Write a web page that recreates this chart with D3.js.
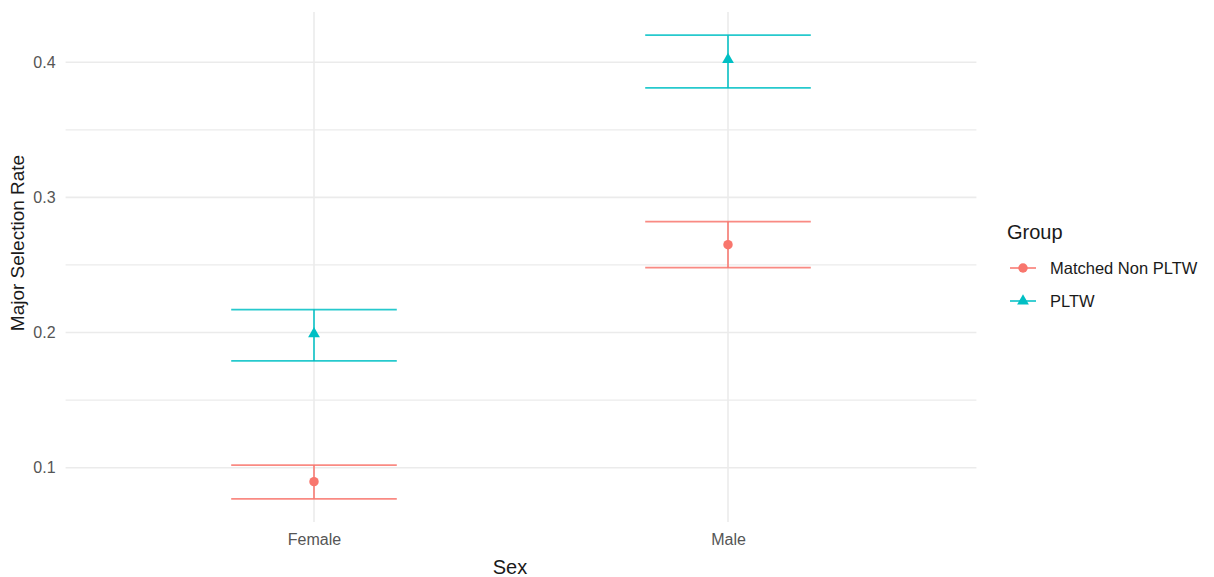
<!DOCTYPE html>
<html><head><meta charset="utf-8">
<script src="https://cdn.jsdelivr.net/npm/d3@7"></script>
<style>body{margin:0;background:#fff;} svg{display:block;font-family:"Liberation Sans",Arial,sans-serif;}</style>
</head><body>
<svg id="chart" width="1214" height="577"></svg>
<script>
const categories = ["Female", "Male"];
const groups = ["Matched Non PLTW", "PLTW"];
const colors = ["#F8766D", "#00BFC4"];
const matchedRate = [0.0897, 0.265];
const matchedLower = [0.077, 0.248];
const matchedUpper = [0.102, 0.282];
const pltwRate = [0.199, 0.402];
const pltwLower = [0.179, 0.381];
const pltwUpper = [0.217, 0.420];
const yTicks = [0.1, 0.2, 0.3, 0.4];
const yMinor = [0.15, 0.25, 0.35];

const rows = [];
categories.forEach((c, i) => {
  rows.push({cat: c, g: 0, rate: matchedRate[i], lo: matchedLower[i], hi: matchedUpper[i]});
  rows.push({cat: c, g: 1, rate: pltwRate[i], lo: pltwLower[i], hi: pltwUpper[i]});
});

const svg = d3.select("#chart");
const panel = {left: 65.6, right: 976.4, top: 12, bottom: 522};

const x = d3.scalePoint().domain(categories).range([panel.left, panel.right]).padding(0.6);
const step = x.step();
const yLo = d3.min(rows, d => d.lo), yHi = d3.max(rows, d => d.hi);
const pad = (yHi - yLo) * 0.05;
const y = d3.scaleLinear().domain([yLo - pad, yHi + pad]).range([panel.bottom, panel.top]);

const grid = svg.append("g");
grid.selectAll("line.minor").data(yMinor).join("line")
  .attr("x1", panel.left).attr("x2", panel.right)
  .attr("y1", d => y(d)).attr("y2", d => y(d))
  .attr("stroke", "#ebebeb").attr("stroke-width", 1.2);
grid.selectAll("line.major").data(yTicks).join("line")
  .attr("x1", panel.left).attr("x2", panel.right)
  .attr("y1", d => y(d)).attr("y2", d => y(d))
  .attr("stroke", "#ebebeb").attr("stroke-width", 1.6);
grid.selectAll("line.vx").data(categories).join("line")
  .attr("x1", d => x(d)).attr("x2", d => x(d))
  .attr("y1", panel.top).attr("y2", panel.bottom)
  .attr("stroke", "#ebebeb").attr("stroke-width", 1.6);

// axes
const yAxis = d3.axisLeft(y).tickValues(yTicks).tickFormat(d3.format(".1f")).tickSize(0).tickPadding(10);
const ya = svg.append("g").attr("transform", `translate(${panel.left},0)`).call(yAxis);
ya.select(".domain").remove();
ya.selectAll("text").attr("font-size", 16).attr("fill", "#555").attr("font-family", "Liberation Sans, Arial, sans-serif");

const xAxis = d3.axisBottom(x).tickSize(0).tickPadding(12);
const xa = svg.append("g").attr("transform", `translate(0,${panel.bottom})`).call(xAxis);
xa.select(".domain").remove();
xa.selectAll("text").attr("font-size", 16).attr("fill", "#555").attr("font-family", "Liberation Sans, Arial, sans-serif");

svg.append("text").attr("x", 510).attr("y", 574)
  .attr("text-anchor", "middle").attr("font-size", 20).attr("fill", "#1a1a1a").text("Sex");
svg.append("text").attr("transform", `translate(24,243) rotate(-90)`)
  .attr("text-anchor", "middle").attr("font-size", 19).attr("fill", "#1a1a1a").text("Major Selection Rate");

// error bars
const ebW = step * 0.4;
const eb = svg.append("g").selectAll("g").data(rows).join("g")
  .attr("stroke", d => colors[d.g]).attr("stroke-width", 1.8).attr("stroke-opacity", 0.85);
eb.append("line").attr("x1", d => x(d.cat)).attr("x2", d => x(d.cat)).attr("y1", d => y(d.lo)).attr("y2", d => y(d.hi));
eb.append("line").attr("x1", d => x(d.cat) - ebW / 2).attr("x2", d => x(d.cat) + ebW / 2).attr("y1", d => y(d.lo)).attr("y2", d => y(d.lo));
eb.append("line").attr("x1", d => x(d.cat) - ebW / 2).attr("x2", d => x(d.cat) + ebW / 2).attr("y1", d => y(d.hi)).attr("y2", d => y(d.hi));

const circ = d3.symbol().type(d3.symbolCircle).size(70);
const tri = d3.symbol().type(d3.symbolTriangle).size(60);
svg.append("g").selectAll("path").data(rows).join("path")
  .attr("transform", d => `translate(${x(d.cat)},${y(d.rate)})`)
  .attr("d", d => d.g === 0 ? circ() : tri())
  .attr("fill", d => colors[d.g]);

// legend
const lg = svg.append("g").attr("transform", "translate(1007,0)");
lg.append("text").attr("x", 0).attr("y", 239).attr("font-size", 20).attr("fill", "#1a1a1a").text("Group");
const keyY = [268, 301];
groups.forEach((g, i) => {
  const k = lg.append("g").attr("transform", `translate(0,${keyY[i]})`);
  k.append("line").attr("x1", 3).attr("x2", 29).attr("y1", 0).attr("y2", 0)
    .attr("stroke", colors[i]).attr("stroke-width", 1.8).attr("stroke-opacity", 0.85);
  k.append("path").attr("transform", "translate(16,0)").attr("d", i === 0 ? circ() : tri()).attr("fill", colors[i]);
  k.append("text").attr("x", 43).attr("y", 6).attr("font-size", 16.5).attr("fill", "#1a1a1a").text(g);
});
</script>
</body></html>
